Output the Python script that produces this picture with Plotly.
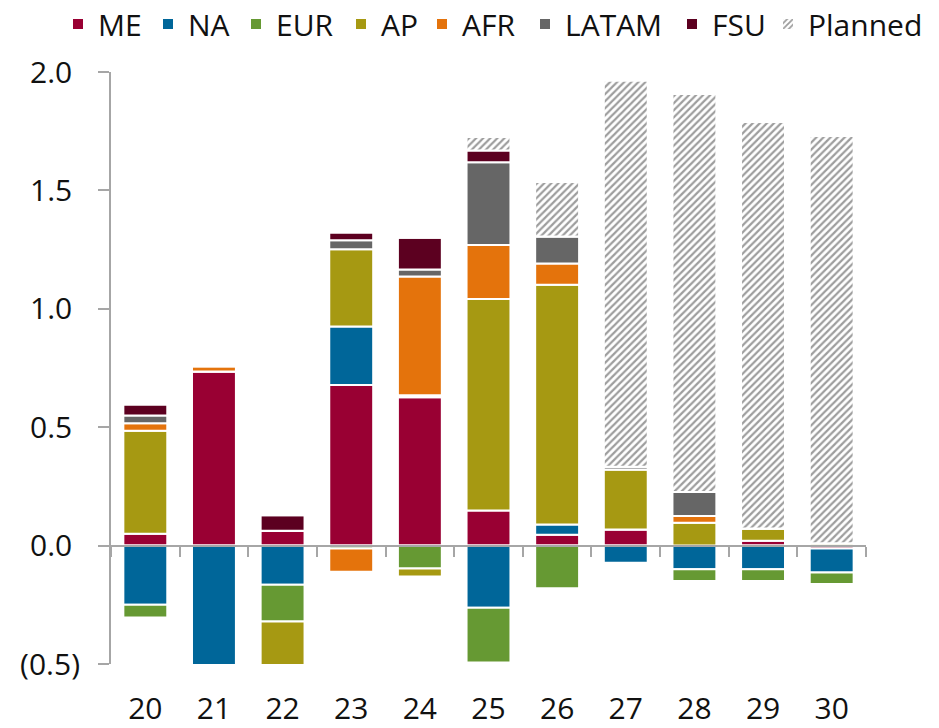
import plotly.graph_objects as go

years = ["20", "21", "22", "23", "24", "25", "26", "27", "28", "29", "30"]

me      = [0.05, 0.735, 0.063, 0.678, 0.627, 0.148, 0.046, 0.068, 0.0, 0.021, -0.012]
na      = [-0.25, -0.52, -0.165, 0.247, 0.008, -0.262, 0.043, -0.072, -0.10, -0.10, -0.102]
eur     = [-0.054, 0.0, -0.155, -0.012, -0.097, -0.232, -0.18, 0.0, -0.05, -0.05, -0.048]
ap      = [0.435, 0.0, -0.2, 0.327, -0.034, 0.893, 1.013, 0.253, 0.097, 0.051, 0.01]
afr     = [0.032, 0.022, 0.0, -0.098, 0.501, 0.228, 0.089, 0.0, 0.028, 0.0, 0.0]
latam   = [0.032, 0.0, 0.0, 0.038, 0.03, 0.35, 0.114, 0.012, 0.101, 0.0, 0.0]
fsu     = [0.047, 0.0, 0.065, 0.032, 0.134, 0.049, 0.0, 0.0, 0.0, 0.0, 0.0]
planned = [0.0, 0.0, 0.0, 0.0, 0.0, 0.058, 0.231, 1.63, 1.681, 1.717, 1.72]

y_tickvals = [-0.5, 0.0, 0.5, 1.0, 1.5, 2.0]
y_ticktext = ["(0.5)", "0.0\u00a0", "0.5\u00a0", "1.0\u00a0", "1.5\u00a0", "2.0\u00a0"]

series = [
    ("ME", me, "#990033"),
    ("NA", na, "#006699"),
    ("EUR", eur, "#669933"),
    ("AP", ap, "#A69912"),
    ("AFR", afr, "#E4730C"),
    ("LATAM", latam, "#666666"),
    ("FSU", fsu, "#5C0020"),
    ("Planned", planned, None),
]
# left position (px) of each legend entry
legend_x_px = [58, 148, 236, 341, 422, 525, 672, 768]

FONT = "Open Sans"
AXC = "#a6a6a6"
TXT = "#111111"

fig = go.Figure()
legend_layouts = {}
for i, (name, vals, col) in enumerate(series):
    lname = "legend" if i == 0 else f"legend{i + 1}"
    if col is None:
        marker = dict(
            color="white",
            line=dict(color="white", width=2),
            pattern=dict(shape="/", fgcolor="#3c3c3c", bgcolor="white", size=5, solidity=0.45),
        )
    else:
        marker = dict(color=col, line=dict(color="white", width=2))
    fig.add_trace(go.Bar(x=years, y=vals, name=name, marker=marker, legend=lname))
    legend_layouts[lname] = dict(
        orientation="h",
        xref="container", yref="container",
        x=legend_x_px[i] / 939, y=1 - 24 / 728,
        xanchor="left", yanchor="middle",
        font=dict(family=FONT, size=30, color=TXT),
        bgcolor="rgba(0,0,0,0)",
    )

# invisible trace to host the zero-line axis
fig.add_trace(go.Bar(x=years, y=[None] * len(years), xaxis="x2", showlegend=False,
                     hoverinfo="skip"))

fig.update_layout(
    width=939, height=728,
    barmode="relative",
    bargap=0.36,
    paper_bgcolor="white", plot_bgcolor="white",
    margin=dict(l=111, r=73, t=72, b=64, autoexpand=False),
    font=dict(family=FONT, size=30, color=TXT),
    xaxis=dict(
        type="category", categoryorder="array", categoryarray=years,
        range=[-0.5, len(years) - 0.5],
        showline=False, showgrid=False, zeroline=False, ticks="",
        ticklabelstandoff=24,
        tickfont=dict(family=FONT, size=30, color=TXT),
    ),
    xaxis2=dict(
        type="category", categoryorder="array", categoryarray=years,
        range=[-0.5, len(years) - 0.5],
        overlaying="x", anchor="free", position=0.2, side="bottom",
        showline=True, linecolor=AXC, linewidth=2,
        ticks="outside", tickson="boundaries", ticklen=10, tickwidth=2, tickcolor=AXC,
        showticklabels=False, showgrid=False, zeroline=False,
    ),
    yaxis=dict(
        range=[-0.5, 2.0],
        tickvals=y_tickvals, ticktext=y_ticktext,
        showline=True, linecolor=AXC, linewidth=2,
        ticks="outside", ticklen=11, tickwidth=2, tickcolor=AXC,
        showgrid=False, zeroline=False,
        ticklabelstandoff=12,
        tickfont=dict(family=FONT, size=30, color=TXT),
    ),
    **legend_layouts,
)

fig.write_html(
    "out.html",
    config={"displayModeBar": False},
    post_script="document.body.style.margin='0';document.body.style.padding='0';",
)
